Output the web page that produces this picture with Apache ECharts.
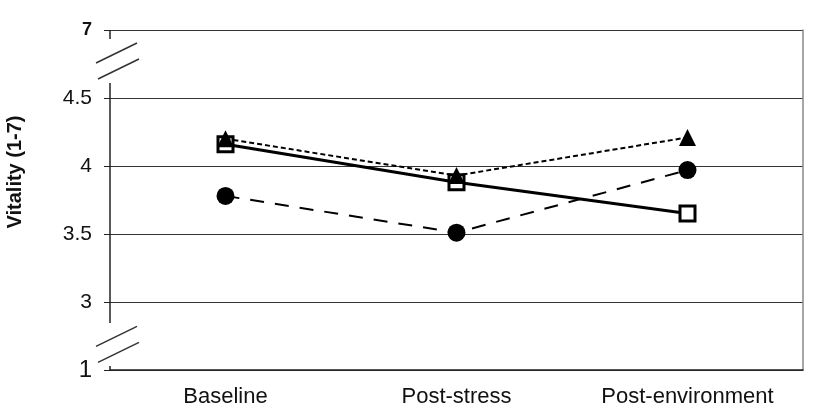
<!DOCTYPE html>
<html>
<head>
<meta charset="utf-8">
<script src="https://cdn.jsdelivr.net/npm/echarts@6/dist/echarts.min.js"></script>
<style>
  html, body { margin: 0; padding: 0; background: #fff; }
  #main { width: 819px; height: 418px; }
</style>
</head>
<body>
<div id="main"></div>
<script>
// categories
var categories = ['Baseline', 'Post-stress', 'Post-environment']
// series values (vitality 1-7)
var squareData = [4.16, 3.88, 3.65]
var triangleData = [4.20, 3.93, 4.21]
var circleData = [3.78, 3.51, 3.97]
// y axis: broken scale, 2.5 stands for 1 and 5 stands for 7
var yTickValues = [2.5, 3, 3.5, 4, 4.5, 5]
var yTickLabels = ['1', '3', '3.5', '4', '4.5', '7']

var FONT = '"Liberation Sans", Arial, sans-serif'
var gridLeft = 110

var myChart = echarts.init(document.getElementById('main'))

var option = {
  animation: false,
  backgroundColor: '#fff',
  grid: {
    left: gridLeft,
    right: 16,
    top: 30,
    bottom: 48
  },
  xAxis: {
    type: 'category',
    data: categories,
    boundaryGap: true,
    axisLine: {
      lineStyle: { color: '#222', width: 1.5 }
    },
    axisTick: {
      length: 6,
      lineStyle: { color: '#888', width: 1.5 }
    },
    axisLabel: {
      color: '#111',
      fontFamily: FONT,
      fontSize: 22,
      margin: 16
    }
  },
  yAxis: [
    {
      type: 'value',
      min: 2.5,
      max: 5,
      interval: 0.5,
      axisLine: { show: false },
      axisTick: {
        show: true,
        length: 6,
        lineStyle: { color: '#222', width: 1 }
      },
      axisLabel: {
        margin: 18,
        color: '#111',
        fontFamily: FONT,
        fontSize: 21,
        formatter: function (v) {
          var idx = yTickValues.indexOf(v)
          var text = idx >= 0 ? yTickLabels[idx] : ''
          if (v === 5) return '{b|' + text + '}'
          if (v === 2.5) return '{big|' + text + '}'
          return text
        },
        rich: {
          b: { fontFamily: FONT, fontSize: 18, fontWeight: 'bold', color: '#111' },
          big: { fontFamily: FONT, fontSize: 24, color: '#111' }
        }
      },
      splitLine: {
        lineStyle: { color: '#333', width: 1.2 }
      }
    },
    {
      // right border of the plot
      type: 'value',
      position: 'right',
      min: 2.5,
      max: 5,
      interval: 0.5,
      axisLine: { show: true, lineStyle: { color: '#888', width: 1.5 } },
      axisTick: { show: false },
      axisLabel: { show: false },
      splitLine: { show: false }
    }
  ],
  series: [
    {
      name: 'square',
      type: 'line',
      data: squareData,
      symbol: 'rect',
      symbolSize: 15,
      lineStyle: { color: '#000', width: 3 },
      itemStyle: { color: '#fff', borderColor: '#000', borderWidth: 3 },
      z: 2
    },
    {
      name: 'triangle',
      type: 'line',
      data: triangleData,
      symbol: 'triangle',
      symbolSize: 17,
      lineStyle: { color: '#000', width: 2, type: [5, 3] },
      itemStyle: { color: '#000' },
      z: 3
    },
    {
      name: 'circle',
      type: 'line',
      data: circleData,
      symbol: 'circle',
      symbolSize: 18,
      lineStyle: { color: '#000', width: 2, type: [14, 11] },
      itemStyle: { color: '#000' },
      z: 3
    }
  ]
}

myChart.setOption(option)

// 断轴：画出y轴的分段和斜线
function yPx(v) {
  return myChart.convertToPixel({ yAxisIndex: 0 }, v)
}
var segments = [[5, 4.934], [4.61, 2.846], [2.53, 2.5]]
var gaps = [[4.934, 4.61], [2.846, 2.53]]
var elements = []
segments.forEach(function (s) {
  elements.push({
    type: 'line',
    shape: { x1: gridLeft, y1: yPx(s[0]), x2: gridLeft, y2: yPx(s[1]) },
    style: { stroke: '#222', lineWidth: 1.5 }
  })
})
gaps.forEach(function (g) {
  var cy = (yPx(g[0]) + yPx(g[1])) / 2
  var offs = [-8, 8]
  offs.forEach(function (o, i) {
    var cx = gridLeft + 6 + i * 2
    elements.push({
      type: 'line',
      shape: { x1: cx - 20, y1: cy + o + 10, x2: cx + 21, y2: cy + o - 10 },
      style: { stroke: '#333', lineWidth: 1.5 }
    })
  })
})
// y axis name
elements.push({
  type: 'text',
  x: 15,
  y: 172,
  rotation: Math.PI / 2,
  style: {
    text: 'Vitality (1-7)',
    font: 'bold 20px ' + FONT,
    fill: '#111',
    align: 'center',
    verticalAlign: 'middle'
  }
})
myChart.setOption({ graphic: elements })
</script>
</body>
</html>
